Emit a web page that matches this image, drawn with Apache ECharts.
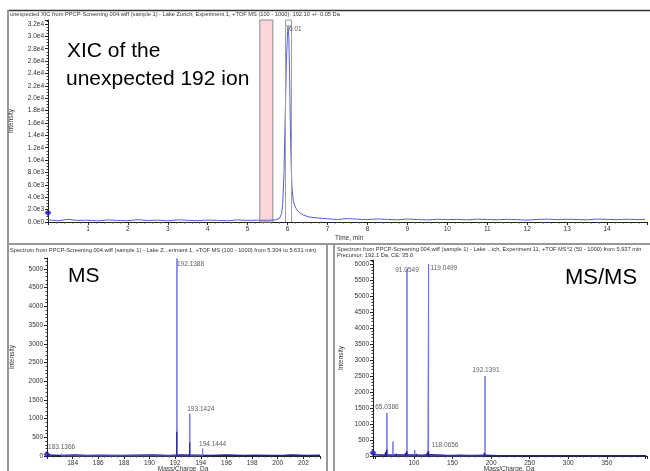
<!DOCTYPE html>
<html><head><meta charset="utf-8">
<script src="https://cdn.jsdelivr.net/npm/echarts/dist/echarts.min.js"></script>
<style>html,body{margin:0;padding:0;background:#fff}#c{width:650px;height:471px}</style>
</head><body><div id="c"></div>
<script>
// ---------------- DATA ----------------
// Top: XIC of m/z 192.10
const xicTime = [0.00,0.25,0.50,0.75,1.00,1.25,1.50,1.75,2.00,2.25,2.50,2.75,3.00,3.25,3.50,3.75,4.00,4.25,4.50,4.75,5.00,5.25,5.50,5.70,5.80,5.85,5.88,5.91,5.94,5.97,6.00,6.01,6.03,6.05,6.07,6.09,6.11,6.14,6.18,6.23,6.30,6.40,6.55,6.75,7.00,7.25,7.50,7.75,8.00,8.25,8.50,8.75,9.00,9.25,9.50,9.75,10.00,10.25,10.50,10.75,11.00,11.25,11.50,11.75,12.00,12.25,12.50,12.75,13.00,13.25,13.50,13.75,14.00,14.25,14.50,14.75,14.95];
const xicIntensity = [350,200,420,250,300,180,330,260,210,380,240,300,190,350,270,220,310,260,200,340,250,300,280,350,600,1400,3200,8000,17000,26000,30800,31600,30000,24000,15000,9000,5500,3500,2600,2000,1500,1100,800,650,520,400,560,450,380,500,420,350,480,400,330,450,380,420,350,470,400,360,440,380,300,420,460,390,450,400,350,480,420,380,450,400,420];
const xicPeakTime = [6.01];
const xicPeakIntensity = [31600];
const xicPeakLabels = ['6.01'];
const msSpectrumWindow = [5.304, 5.631];   // pink band
const msmsWindow = [5.95, 6.10];           // gray bounds
const xicYTicks = ['0.0e0','2.0e3','4.0e3','6.0e3','8.0e3','1.0e4','1.2e4','1.4e4','1.6e4','1.8e4','2.0e4','2.2e4','2.4e4','2.6e4','2.8e4','3.0e4','3.2e4'];

// Bottom-left: MS spectrum
const msPeakMz = [183.1366, 192.1388, 193.1424, 194.1444];
const msPeakIntensity = [60, 5280, 1130, 200];
const msPeakLabels = ['183.1366','192.1388','193.1424','194.1444'];
const msMinorMz = [192.12, 193.13];
const msMinorIntensity = [650, 370];
const msBaseMz = [182.05,183.0,184.2,185.1,186.1,187.5,188.9,190.3,191.5,192.4,193.6,194.8,196.0,197.3,198.2,199.5,200.6,201.1,202.3,203.3];
const msBaseIntensity = [25,15,25,15,22,15,20,25,15,25,20,15,25,15,20,15,22,30,15,20];

// Bottom-right: MS/MS spectrum
const msmsPeakMz = [65.0386, 72.9, 91.0549, 101.0, 118.0656, 119.0499, 192.1391];
const msmsPeakIntensity = [1350, 450, 5850, 190, 160, 6000, 2500];
const msmsPeakLabels = ['65.0386', '', '91.0549', '', '118.0656', '119.0499', '192.1391'];
const msmsMinorMz = [55.0, 63.0, 65.0, 77.0, 79.1, 89.0, 91.0, 103.0, 117.0, 119.0, 130.1, 191.1, 192.1];
const msmsMinorIntensity = [60, 120, 200, 80, 60, 90, 150, 70, 100, 150, 60, 100, 80];
const msmsBaseMz = [47.5,55,60,70,80,90,100,110,120,130,140,150,160,170,180,190,200,210,230,260,300,340,380,401];
const msmsBaseIntensity = [40,30,35,30,35,30,30,25,40,30,20,15,20,15,15,20,15,10,10,10,10,10,10,10];

// ---------------- HELPERS ----------------
const FONT = "'Liberation Sans Narrow','Liberation Sans',Arial,sans-serif";
const LBL = '#333';
const TITLE_SIZE = 5.7;
const zip = (a, b) => a.map((v, i) => [v, b[i]]);
const sticks = (mz, inten) => { const o = []; mz.forEach((m, i) => { o.push([m, 0], [m, inten[i]], [m, 0]); }); return o; };

const axisBase = (extra) => Object.assign({
  axisLine: { show: true, lineStyle: { color: '#222', width: 1 } },
  axisTick: { show: true, length: 3, lineStyle: { color: '#222' } },
  minorTick: { show: true, length: 1.5, splitNumber: 5, lineStyle: { color: '#444' } },
  splitLine: { show: false },
  axisLabel: { color: LBL, fontSize: 6.5, fontFamily: FONT, margin: 3 },
  nameTextStyle: { color: LBL, fontSize: 6.5, fontFamily: FONT }
}, extra);

// label placements (styles, not data)
const xicLabelStyle = [{ position: 'right', offset: [-1, 3] }];
const msLabelStyle = [
  { position: 'top', offset: [0, -1] },
  { position: 'right', offset: [-2, 6] },
  { position: 'top', offset: [11, 1] },
  { position: 'top', offset: [10, 1] }
];
const msmsLabelStyle = [
  { position: 'top', offset: [0, 0] },
  { position: 'top' },
  { position: 'top', offset: [0, 7] },
  { position: 'top' },
  { position: 'right', offset: [2, -6] },
  { position: 'right', offset: [0, 4] },
  { position: 'top', offset: [1, 0] }
];
const labelPoints = (xs, ys, names, styles) => xs.map((x, i) => ({
  value: [x, ys[i]], name: names[i],
  label: Object.assign({ show: names[i] !== '', formatter: '{b}', color: LBL, fontSize: 6.5, fontFamily: FONT, distance: 2 }, styles[i] || {})
}));

const XIC_COLOR = '#5a5ae2';
const STICK_COLOR = '#6f6ff2';
const DARK = '#1f1fa6';
const MARK = '#1a1ab8';

// ---------------- OPTION ----------------
const option = {
  animation: false,
  backgroundColor: '#fff',
  grid: [
    { left: 48, right: 2, top: 20, bottom: 249 },
    { left: 47, right: 330, top: 258, bottom: 15 },
    { left: 373, right: 2, top: 260, bottom: 15 }
  ],
  xAxis: [
    axisBase({ gridIndex: 0, type: 'value', min: 0, max: 15, interval: 1,
      axisLabel: { color: LBL, fontSize: 6.5, fontFamily: FONT, margin: 4,
        formatter: v => (v >= 1 && v <= 14 && Number.isInteger(v)) ? String(v) : '' } }),
    axisBase({ gridIndex: 1, type: 'value', min: 182, max: 203.3, interval: 2,
      minorTick: { show: true, length: 1.5, splitNumber: 4, lineStyle: { color: '#444' } },
      axisLabel: { color: LBL, fontSize: 6.5, fontFamily: FONT, margin: 4,
        formatter: v => (v >= 184 && v <= 202 && v % 2 === 0) ? String(v) : '' } }),
    axisBase({ gridIndex: 2, type: 'value', min: 47, max: 402, splitNumber: 7,
      axisLabel: { color: LBL, fontSize: 6.5, fontFamily: FONT, margin: 4,
        formatter: v => (v >= 100 && v <= 350 && v % 50 === 0) ? String(v) : '' } })
  ],
  yAxis: [
    axisBase({ gridIndex: 0, type: 'value', min: 0, max: 32646, interval: 2000,
      name: 'Intensity', nameLocation: 'middle', nameGap: 33,
      minorTick: { show: true, length: 1.5, splitNumber: 4, lineStyle: { color: '#444' } },
      axisLabel: { color: LBL, fontSize: 6.5, fontFamily: FONT, margin: 4,
        formatter: v => (v % 2000 === 0) ? xicYTicks[v / 2000] : '' } }),
    axisBase({ gridIndex: 1, type: 'value', min: 0, max: 5294, interval: 500,
      name: 'Intensity', nameLocation: 'middle', nameGap: 31,
      minorTick: { show: true, length: 1.5, splitNumber: 5, lineStyle: { color: '#444' } },
      axisLabel: { color: LBL, fontSize: 6.5, fontFamily: FONT, margin: 4,
        formatter: v => (v % 500 === 0) ? String(v) : '' } }),
    axisBase({ gridIndex: 2, type: 'value', min: 0, max: 6125, interval: 500,
      name: 'Intensity', nameLocation: 'middle', nameGap: 28,
      minorTick: { show: true, length: 1.5, splitNumber: 5, lineStyle: { color: '#444' } },
      axisLabel: { color: LBL, fontSize: 6.5, fontFamily: FONT, margin: 4,
        formatter: v => (v % 500 === 0) ? String(v) : '' } })
  ],
  series: [
    // ---- XIC ----
    {
      type: 'line', xAxisIndex: 0, yAxisIndex: 0, data: zip(xicTime, xicIntensity),
      showSymbol: false, lineStyle: { color: XIC_COLOR, width: 1 }, z: 3,
      markArea: {
        silent: true,
        data: [
          [{ xAxis: msSpectrumWindow[0], itemStyle: { color: '#fad6dc', borderColor: '#8c8c8c', borderWidth: 1 } }, { xAxis: msSpectrumWindow[1] }],
          [{ xAxis: msmsWindow[0], yAxis: 31700, itemStyle: { color: 'rgba(0,0,0,0)', borderColor: '#9a9a9a', borderWidth: 1 } }, { xAxis: msmsWindow[1], yAxis: 32646 }]
        ]
      },
      markLine: {
        silent: true, symbol: 'none', label: { show: false },
        lineStyle: { color: '#a0a0a0', type: 'solid', width: 1 },
        data: [{ xAxis: msmsWindow[0] }, { xAxis: msmsWindow[1] }]
      }
    },
    { type: 'scatter', xAxisIndex: 0, yAxisIndex: 0, symbolSize: 0, z: 5,
      data: labelPoints(xicPeakTime, xicPeakIntensity, xicPeakLabels, xicLabelStyle) },
    { type: 'scatter', xAxisIndex: 0, yAxisIndex: 0, symbol: 'diamond', symbolSize: 7, z: 6,
      itemStyle: { color: MARK }, data: [[0, 1500]] },

    // ---- MS ----
    { type: 'line', xAxisIndex: 1, yAxisIndex: 1, data: zip(msBaseMz, msBaseIntensity),
      showSymbol: false, lineStyle: { color: DARK, width: 1.5 }, z: 2 },
    { type: 'line', xAxisIndex: 1, yAxisIndex: 1, data: sticks(msPeakMz, msPeakIntensity),
      showSymbol: false, lineStyle: { color: STICK_COLOR, width: 1 }, z: 3 },
    { type: 'line', xAxisIndex: 1, yAxisIndex: 1, data: sticks(msMinorMz, msMinorIntensity),
      showSymbol: false, lineStyle: { color: DARK, width: 1.2 }, z: 4 },
    { type: 'scatter', xAxisIndex: 1, yAxisIndex: 1, symbolSize: 0, z: 5,
      data: labelPoints(msPeakMz, msPeakIntensity, msPeakLabels, msLabelStyle) },
    { type: 'scatter', xAxisIndex: 1, yAxisIndex: 1, symbol: 'diamond', symbolSize: 7, z: 6,
      itemStyle: { color: MARK }, data: [[182, 40]] },

    // ---- MS/MS ----
    { type: 'line', xAxisIndex: 2, yAxisIndex: 2, data: zip(msmsBaseMz, msmsBaseIntensity),
      showSymbol: false, lineStyle: { color: DARK, width: 1.5 }, z: 2 },
    { type: 'line', xAxisIndex: 2, yAxisIndex: 2, data: sticks(msmsPeakMz, msmsPeakIntensity),
      showSymbol: false, lineStyle: { color: STICK_COLOR, width: 1 }, z: 3 },
    { type: 'line', xAxisIndex: 2, yAxisIndex: 2, data: sticks(msmsMinorMz, msmsMinorIntensity),
      showSymbol: false, lineStyle: { color: DARK, width: 1.2 }, z: 4 },
    { type: 'scatter', xAxisIndex: 2, yAxisIndex: 2, symbolSize: 0, z: 5,
      data: labelPoints(msmsPeakMz, msmsPeakIntensity, msmsPeakLabels, msmsLabelStyle) },
    { type: 'scatter', xAxisIndex: 2, yAxisIndex: 2, symbol: 'diamond', symbolSize: 7, z: 6,
      itemStyle: { color: MARK }, data: [[47, 100]] }
  ],
  graphic: [
    // frames
    { type: 'line', shape: { x1: 8, y1: 10.5, x2: 650, y2: 10.5 }, style: { stroke: '#333', lineWidth: 1.5 } },
    { type: 'line', shape: { x1: 8, y1: 10, x2: 8, y2: 471 }, style: { stroke: '#999', lineWidth: 2 } },
    { type: 'line', shape: { x1: 8, y1: 244, x2: 650, y2: 244 }, style: { stroke: '#999', lineWidth: 2 } },
    { type: 'line', shape: { x1: 327, y1: 244, x2: 327, y2: 471 }, style: { stroke: '#999', lineWidth: 2 } },
    { type: 'line', shape: { x1: 334, y1: 244, x2: 334, y2: 471 }, style: { stroke: '#999', lineWidth: 2 } },
    // titles
    { type: 'text', x: 10, y: 14, style: { text: 'unexpected XIC from PPCP-Screening 004.wiff (sample 1) - Lake Zurich, Experiment 1, +TOF MS (100 - 1000): 192.10 +/- 0.05 Da', fill: '#333', fontSize: TITLE_SIZE, fontFamily: FONT, verticalAlign: 'middle' } },
    { type: 'text', x: 10, y: 250, style: { text: 'Spectrum from PPCP-Screening 004.wiff (sample 1) - Lake Z...eriment 1, +TOF MS (100 - 1000) from 5.304 to 5.631 min)', fill: '#333', fontSize: TITLE_SIZE, fontFamily: FONT, verticalAlign: 'middle' } },
    { type: 'text', x: 337, y: 249, style: { text: 'Spectrum from PPCP-Screening 004.wiff (sample 1) - Lake ...ich, Experiment 11, +TOF MS^2 (50 - 1000) from 5.937 min', fill: '#333', fontSize: TITLE_SIZE, fontFamily: FONT, verticalAlign: 'middle' } },
    { type: 'text', x: 337, y: 255.5, style: { text: 'Precursor: 192.1 Da, CE: 35.0', fill: '#333', fontSize: TITLE_SIZE, fontFamily: FONT, verticalAlign: 'middle' } },
    // axis titles
    { type: 'text', x: 335, y: 238, style: { text: 'Time, min', fill: '#333', fontSize: 6.5, fontFamily: FONT, verticalAlign: 'middle' } },
    { type: 'text', x: 183, y: 469.5, style: { text: 'Mass/Charge, Da', fill: '#333', fontSize: 6.5, fontFamily: FONT, align: 'center', verticalAlign: 'middle' } },
    { type: 'text', x: 509, y: 469.5, style: { text: 'Mass/Charge, Da', fill: '#333', fontSize: 6.5, fontFamily: FONT, align: 'center', verticalAlign: 'middle' } },
    // annotations
    { type: 'text', x: 67, y: 51, style: { text: 'XIC of the', fill: '#000', fontSize: 21, fontFamily: "'Liberation Sans',Arial,sans-serif", verticalAlign: 'middle' } },
    { type: 'text', x: 66, y: 79, style: { text: 'unexpected 192 ion', fill: '#000', fontSize: 21, fontFamily: "'Liberation Sans',Arial,sans-serif", verticalAlign: 'middle' } },
    { type: 'text', x: 68, y: 276.5, style: { text: 'MS', fill: '#000', fontSize: 21, fontFamily: "'Liberation Sans',Arial,sans-serif", verticalAlign: 'middle' } },
    { type: 'text', x: 565, y: 277.5, style: { text: 'MS/MS', fill: '#000', fontSize: 22, fontFamily: "'Liberation Sans',Arial,sans-serif", verticalAlign: 'middle' } }
  ]
};

const chart = echarts.init(document.getElementById('c'), null, { renderer: 'canvas', width: 650, height: 471 });
chart.setOption(option);
</script></body></html>
